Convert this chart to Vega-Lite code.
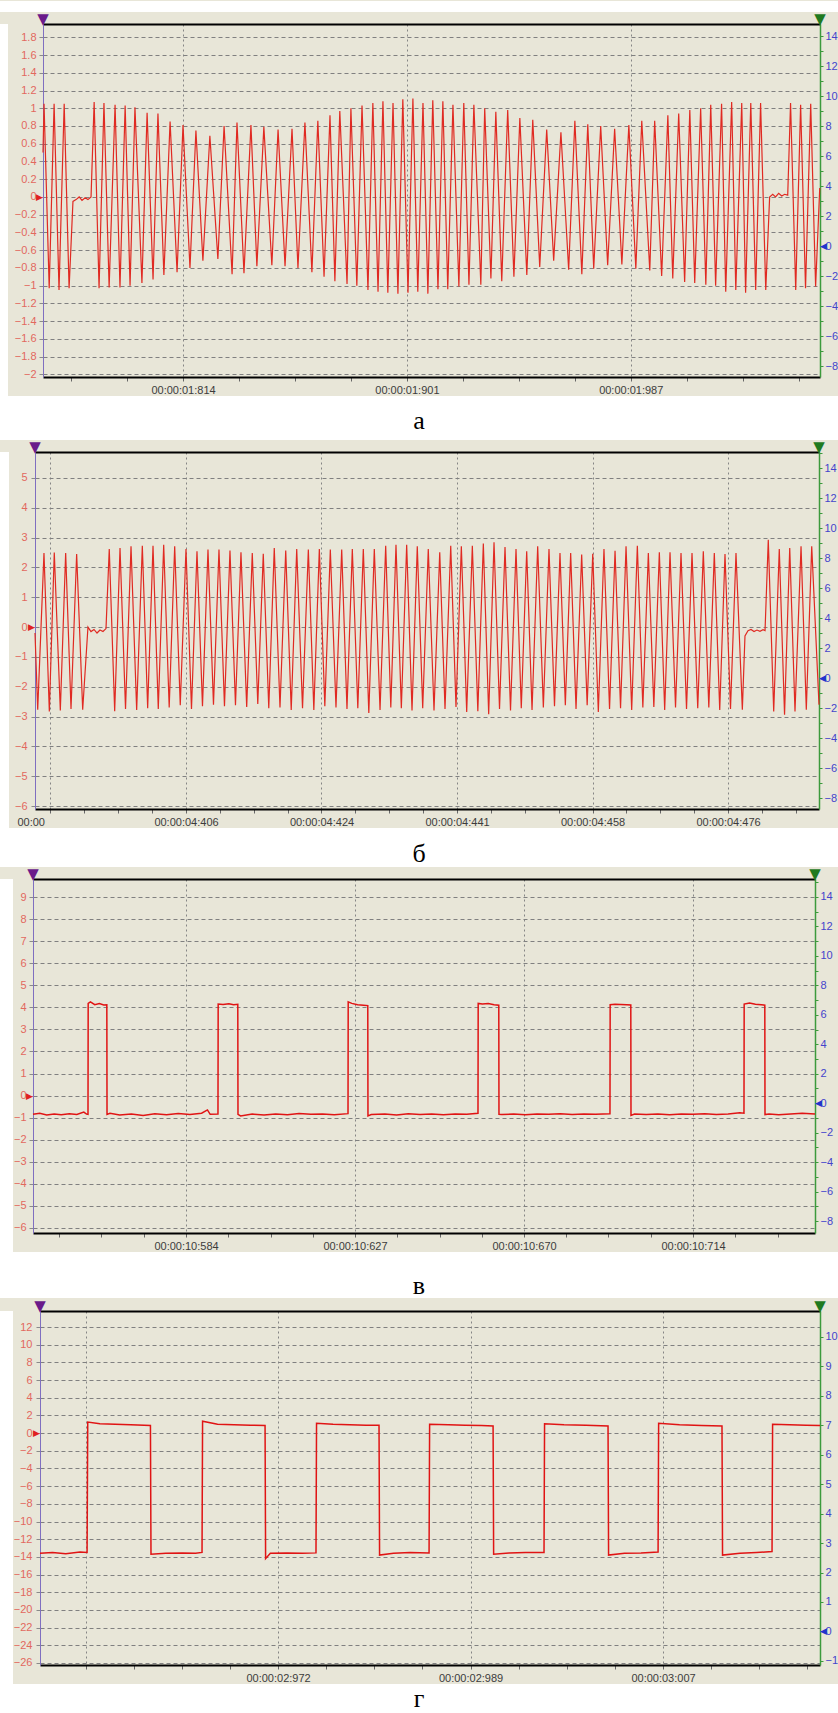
{
"$schema": "https://vega.github.io/schema/vega-lite/v6.json",
"padding": 0,
"background": "#e8e6d8",
"spacing": 0,
"bounds": "full",
"config": {
  "view": {"stroke": null},
  "axis": {"labelFont": "Liberation Sans", "labelFontSize": 11, "labelOverlap": false, "labelFlush": false, "labelBound": false, "title": null}
},
"datasets": {
"a": [
{"t":1759.8,"v":0.5},{"t":1760.2,"v":1.05},{"t":1762.2,"v":-1.03},{"t":1764.1,"v":1.05},{"t":1766.0,"v":-1.05},{"t":1768.0,"v":1.05},{"t":1769.9,"v":-1.03},
{"t":1771.4,"v":-0.05},{"t":1772.6,"v":-0.03},{"t":1773.8,"v":0.0},{"t":1774.9,"v":-0.04},{"t":1776.1,"v":-0.01},{"t":1777.2,"v":-0.03},{"t":1778.4,"v":0.0},
{"t":1779.6,"v":1.07},{"t":1781.5,"v":-1.03},{"t":1783.4,"v":1.06},{"t":1785.4,"v":-1.02},{"t":1787.7,"v":1.04},{"t":1789.6,"v":-1.02},{"t":1791.6,"v":1.03},{"t":1793.5,"v":-1.0},
{"t":1795.4,"v":1.01},{"t":1798.1,"v":-0.97},{"t":1800.1,"v":0.95},{"t":1802.4,"v":-0.93},{"t":1804.3,"v":0.94},{"t":1806.6,"v":-0.88},{"t":1809.0,"v":0.85},{"t":1811.7,"v":-0.85},
{"t":1814.0,"v":0.81},{"t":1816.7,"v":-0.8},{"t":1819.0,"v":0.75},{"t":1821.7,"v":-0.72},{"t":1824.4,"v":0.69},{"t":1827.5,"v":-0.7},{"t":1829.9,"v":0.8},{"t":1833.0,"v":-0.87},
{"t":1834.9,"v":0.84},{"t":1837.6,"v":-0.86},{"t":1840.3,"v":0.81},{"t":1842.6,"v":-0.78},{"t":1845.3,"v":0.79},{"t":1848.4,"v":-0.77},{"t":1850.8,"v":0.76},{"t":1853.5,"v":-0.78},
{"t":1856.2,"v":0.77},{"t":1858.5,"v":-0.8},{"t":1861.2,"v":0.84},{"t":1863.9,"v":-0.85},{"t":1866.2,"v":0.86},{"t":1868.6,"v":-0.9},{"t":1870.9,"v":0.92},{"t":1872.8,"v":-0.95},
{"t":1874.7,"v":0.97},{"t":1877.5,"v":-0.98},{"t":1879.0,"v":1.0},{"t":1881.3,"v":-1.0},{"t":1883.3,"v":1.03},{"t":1885.6,"v":-1.05},{"t":1887.5,"v":1.06},{"t":1889.5,"v":-1.07},
{"t":1891.4,"v":1.08},{"t":1893.3,"v":-1.08},{"t":1895.3,"v":1.06},{"t":1897.2,"v":-1.09},{"t":1899.1,"v":1.1},{"t":1901.1,"v":-1.08},{"t":1903.0,"v":1.11},{"t":1904.9,"v":-1.07},
{"t":1906.9,"v":1.06},{"t":1908.8,"v":-1.09},{"t":1910.7,"v":1.09},{"t":1912.7,"v":-1.04},{"t":1914.6,"v":1.08},{"t":1916.5,"v":-1.04},{"t":1918.5,"v":1.04},{"t":1920.8,"v":-1.01},
{"t":1922.7,"v":1.06},{"t":1924.7,"v":-0.99},{"t":1926.6,"v":1.04},{"t":1929.3,"v":-0.99},{"t":1930.8,"v":1.0},{"t":1933.2,"v":-0.92},{"t":1935.1,"v":0.96},{"t":1937.4,"v":-0.95},
{"t":1939.7,"v":0.98},{"t":1942.1,"v":-0.9},{"t":1944.4,"v":0.89},{"t":1947.1,"v":-0.88},{"t":1949.4,"v":0.87},{"t":1952.1,"v":-0.79},{"t":1954.8,"v":0.76},{"t":1957.5,"v":-0.72},
{"t":1960.3,"v":0.73},{"t":1963.3,"v":-0.82},{"t":1965.7,"v":0.86},{"t":1968.4,"v":-0.87},{"t":1970.7,"v":0.82},{"t":1973.0,"v":-0.81},{"t":1975.7,"v":0.8},{"t":1978.4,"v":-0.77},
{"t":1981.1,"v":0.77},{"t":1983.9,"v":-0.76},{"t":1986.6,"v":0.81},{"t":1989.3,"v":-0.81},{"t":1991.6,"v":0.86},{"t":1994.7,"v":-0.83},{"t":1996.6,"v":0.86},{"t":1999.3,"v":-0.89},
{"t":2001.7,"v":0.92},{"t":2003.6,"v":-0.92},{"t":2005.9,"v":0.94},{"t":2008.2,"v":-0.96},{"t":2010.2,"v":0.98},{"t":2012.1,"v":-0.97},{"t":2014.4,"v":1.0},{"t":2016.4,"v":-0.99},
{"t":2018.3,"v":1.04},{"t":2020.2,"v":-1.0},{"t":2022.5,"v":1.05},{"t":2024.1,"v":-1.07},{"t":2026.4,"v":1.07},{"t":2028.0,"v":-1.05},{"t":2030.3,"v":1.06},{"t":2031.8,"v":-1.08},
{"t":2033.8,"v":1.06},{"t":2035.7,"v":-1.05},{"t":2037.6,"v":1.06},{"t":2039.6,"v":-1.05},
{"t":2041.1,"v":0.0},{"t":2042.3,"v":0.03},{"t":2043.4,"v":0.0},{"t":2044.6,"v":0.04},{"t":2045.8,"v":0.01},{"t":2046.9,"v":0.03},{"t":2048.1,"v":0.02},
{"t":2049.2,"v":1.06},{"t":2051.2,"v":-1.05},{"t":2053.1,"v":1.04},{"t":2055.0,"v":-1.03},{"t":2057.0,"v":1.05},{"t":2058.9,"v":-1.01},{"t":2060.5,"v":0.1}
],
"b": [
{"t":4386.5,"v":-0.2},{"t":4386.85,"v":-2.77},{"t":4387.66,"v":2.48},{"t":4388.35,"v":-2.83},{"t":4388.99,"v":2.5},{"t":4389.77,"v":-2.8},{"t":4390.46,"v":2.48},{"t":4391.15,"v":-2.75},
{"t":4391.88,"v":2.45},{"t":4392.66,"v":-2.77},{"t":4393.34,"v":0.0},{"t":4393.73,"v":-0.15},{"t":4394.12,"v":-0.08},{"t":4394.51,"v":-0.2},{"t":4394.89,"v":-0.1},{"t":4395.28,"v":-0.15},{"t":4395.67,"v":-0.05},
{"t":4396.09,"v":2.62},{"t":4396.79,"v":-2.82},{"t":4397.48,"v":2.65},{"t":4398.19,"v":-2.75},{"t":4398.9,"v":2.71},{"t":4399.63,"v":-2.78},{"t":4400.36,"v":2.73},{"t":4401.05,"v":-2.72},
{"t":4401.74,"v":2.73},{"t":4402.42,"v":-2.75},{"t":4403.12,"v":2.76},{"t":4403.83,"v":-2.7},{"t":4404.54,"v":2.71},{"t":4405.26,"v":-2.62},{"t":4406.0,"v":2.62},{"t":4406.71,"v":-2.75},
{"t":4407.42,"v":2.54},{"t":4408.13,"v":-2.65},{"t":4408.84,"v":2.6},{"t":4409.55,"v":-2.6},{"t":4410.26,"v":2.6},{"t":4410.97,"v":-2.65},{"t":4411.68,"v":2.57},{"t":4412.39,"v":-2.62},
{"t":4413.1,"v":2.51},{"t":4413.84,"v":-2.68},{"t":4414.56,"v":2.48},{"t":4415.27,"v":-2.58},{"t":4415.98,"v":2.46},{"t":4416.69,"v":-2.72},{"t":4417.4,"v":2.65},{"t":4418.14,"v":-2.7},
{"t":4418.88,"v":2.57},{"t":4419.59,"v":-2.78},{"t":4420.3,"v":2.62},{"t":4421.05,"v":-2.72},{"t":4421.8,"v":2.6},{"t":4422.51,"v":-2.78},{"t":4423.22,"v":2.62},{"t":4423.93,"v":-2.65},
{"t":4424.64,"v":2.6},{"t":4425.37,"v":-2.7},{"t":4426.11,"v":2.6},{"t":4426.79,"v":-2.75},{"t":4427.48,"v":2.62},{"t":4428.19,"v":-2.72},{"t":4428.9,"v":2.62},{"t":4429.61,"v":-2.88},
{"t":4430.32,"v":2.62},{"t":4431.06,"v":-2.78},{"t":4431.79,"v":2.73},{"t":4432.45,"v":-2.7},{"t":4433.12,"v":2.76},{"t":4433.81,"v":-2.72},{"t":4434.5,"v":2.76},{"t":4435.19,"v":-2.8},
{"t":4435.87,"v":2.71},{"t":4436.57,"v":-2.72},{"t":4437.29,"v":2.62},{"t":4438.03,"v":-2.8},{"t":4438.77,"v":2.51},{"t":4439.45,"v":-2.75},{"t":4440.19,"v":2.73},{"t":4440.87,"v":-2.68},
{"t":4441.56,"v":2.71},{"t":4442.25,"v":-2.85},{"t":4442.98,"v":2.73},{"t":4443.69,"v":-2.82},{"t":4444.4,"v":2.8},{"t":4445.09,"v":-2.92},{"t":4445.78,"v":2.84},{"t":4446.49,"v":-2.75},
{"t":4447.2,"v":2.68},{"t":4447.91,"v":-2.8},{"t":4448.62,"v":2.62},{"t":4449.3,"v":-2.72},{"t":4450.0,"v":2.54},{"t":4450.69,"v":-2.78},{"t":4451.42,"v":2.71},{"t":4452.15,"v":-2.7},
{"t":4452.88,"v":2.62},{"t":4453.59,"v":-2.65},{"t":4454.3,"v":2.48},{"t":4454.99,"v":-2.62},{"t":4455.68,"v":2.48},{"t":4456.37,"v":-2.75},{"t":4457.1,"v":2.43},{"t":4457.81,"v":-2.62},
{"t":4458.53,"v":2.46},{"t":4459.25,"v":-2.85},{"t":4459.98,"v":2.62},{"t":4460.7,"v":-2.75},{"t":4461.41,"v":2.56},{"t":4462.12,"v":-2.72},{"t":4462.83,"v":2.71},{"t":4463.56,"v":-2.78},
{"t":4464.29,"v":2.73},{"t":4465.0,"v":-2.7},{"t":4465.71,"v":2.48},{"t":4466.42,"v":-2.68},{"t":4467.13,"v":2.51},{"t":4467.82,"v":-2.78},{"t":4468.51,"v":2.51},{"t":4469.22,"v":-2.7},
{"t":4469.93,"v":2.48},{"t":4470.64,"v":-2.75},{"t":4471.35,"v":2.48},{"t":4472.09,"v":-2.72},{"t":4472.81,"v":2.54},{"t":4473.52,"v":-2.7},{"t":4474.23,"v":2.48},{"t":4474.93,"v":-2.78},
{"t":4475.61,"v":2.45},{"t":4476.32,"v":-2.75},{"t":4477.03,"v":2.48},{"t":4477.85,"v":-2.77},
{"t":4478.19,"v":-0.3},{"t":4478.58,"v":-0.12},{"t":4478.97,"v":-0.08},{"t":4479.36,"v":-0.15},{"t":4479.74,"v":-0.1},{"t":4480.13,"v":-0.14},{"t":4480.52,"v":-0.09},{"t":4480.78,"v":-0.12},
{"t":4481.2,"v":2.93},{"t":4481.9,"v":-2.83},{"t":4482.62,"v":2.62},{"t":4483.3,"v":-2.94},{"t":4483.97,"v":2.65},{"t":4484.65,"v":-2.83},{"t":4485.43,"v":2.71},{"t":4486.11,"v":-2.77},
{"t":4486.81,"v":2.71},{"t":4487.75,"v":-2.6}
],
"c": [
{"t":10544.77,"v":-0.85},{"t":10546.5,"v":-0.8},{"t":10548.3,"v":-0.88},{"t":10550.2,"v":-0.83},{"t":10552.0,"v":-0.87},{"t":10554.1,"v":-0.82},{"t":10556.0,"v":-0.86},{"t":10557.8,"v":-0.75},{"t":10558.5,"v":-0.84},{"t":10558.87,"v":-0.85},
{"t":10558.92,"v":4.18},{"t":10559.5,"v":4.25},{"t":10560.6,"v":4.12},{"t":10561.8,"v":4.17},{"t":10562.9,"v":4.11},{"t":10563.7,"v":4.12},
{"t":10563.75,"v":-0.85},{"t":10564.5,"v":-0.8},{"t":10567.0,"v":-0.88},{"t":10570.0,"v":-0.84},{"t":10573.0,"v":-0.9},{"t":10576.0,"v":-0.82},{"t":10579.0,"v":-0.87},{"t":10582.0,"v":-0.81},{"t":10585.0,"v":-0.86},{"t":10588.0,"v":-0.8},{"t":10589.5,"v":-0.65},{"t":10590.2,"v":-0.85},{"t":10592.2,"v":-0.84},
{"t":10592.25,"v":4.15},{"t":10593.5,"v":4.13},{"t":10595.0,"v":4.16},{"t":10596.2,"v":4.12},{"t":10597.28,"v":4.14},
{"t":10597.33,"v":-0.85},{"t":10598.0,"v":-0.92},{"t":10601.0,"v":-0.84},{"t":10604.0,"v":-0.88},{"t":10607.0,"v":-0.83},{"t":10610.0,"v":-0.87},{"t":10613.0,"v":-0.81},{"t":10616.0,"v":-0.85},{"t":10619.0,"v":-0.83},{"t":10622.0,"v":-0.87},{"t":10625.54,"v":-0.82},
{"t":10625.59,"v":4.25},{"t":10626.5,"v":4.18},{"t":10628.0,"v":4.12},{"t":10629.5,"v":4.1},{"t":10630.61,"v":4.08},
{"t":10630.66,"v":-0.92},{"t":10631.5,"v":-0.86},{"t":10635.0,"v":-0.84},{"t":10638.0,"v":-0.88},{"t":10641.0,"v":-0.82},{"t":10644.0,"v":-0.86},{"t":10647.0,"v":-0.84},{"t":10650.0,"v":-0.87},{"t":10653.0,"v":-0.83},{"t":10656.0,"v":-0.85},{"t":10658.87,"v":-0.8},
{"t":10658.92,"v":4.18},{"t":10660.0,"v":4.15},{"t":10661.5,"v":4.17},{"t":10663.0,"v":4.12},{"t":10664.2,"v":4.1},
{"t":10664.25,"v":-0.85},{"t":10665.0,"v":-0.86},{"t":10668.0,"v":-0.84},{"t":10671.0,"v":-0.87},{"t":10674.0,"v":-0.83},{"t":10677.0,"v":-0.85},{"t":10680.0,"v":-0.82},{"t":10683.0,"v":-0.86},{"t":10686.0,"v":-0.84},{"t":10689.0,"v":-0.85},{"t":10692.71,"v":-0.82},
{"t":10692.76,"v":4.12},{"t":10694.0,"v":4.14},{"t":10695.5,"v":4.13},{"t":10697.0,"v":4.12},{"t":10698.05,"v":4.11},
{"t":10698.1,"v":-0.9},{"t":10699.0,"v":-0.84},{"t":10702.0,"v":-0.86},{"t":10705.0,"v":-0.83},{"t":10708.0,"v":-0.87},{"t":10711.0,"v":-0.84},{"t":10714.0,"v":-0.85},{"t":10717.0,"v":-0.82},{"t":10720.0,"v":-0.86},{"t":10723.0,"v":-0.83},{"t":10726.0,"v":-0.78},{"t":10727.07,"v":-0.8},
{"t":10727.12,"v":4.15},{"t":10728.5,"v":4.2},{"t":10730.0,"v":4.14},{"t":10731.5,"v":4.12},{"t":10732.41,"v":4.1},
{"t":10732.46,"v":-0.86},{"t":10733.5,"v":-0.84},{"t":10736.0,"v":-0.87},{"t":10739.0,"v":-0.83},{"t":10742.0,"v":-0.8},{"t":10745.28,"v":-0.84}
],
"d": [
{"t":2950.36,"v":-13.6},{"t":2951.5,"v":-13.5},{"t":2952.7,"v":-13.65},{"t":2954.0,"v":-13.45},{"t":2954.64,"v":-13.5},
{"t":2954.7,"v":1.25},{"t":2955.8,"v":1.05},{"t":2957.2,"v":1.0},{"t":2958.6,"v":0.95},{"t":2960.4,"v":0.85},
{"t":2960.45,"v":-13.7},{"t":2961.8,"v":-13.6},{"t":2963.3,"v":-13.55},{"t":2964.5,"v":-13.6},{"t":2965.09,"v":-13.5},
{"t":2965.14,"v":1.35},{"t":2966.5,"v":1.0},{"t":2968.0,"v":0.95},{"t":2969.5,"v":0.9},{"t":2970.82,"v":0.85},
{"t":2970.87,"v":-14.2},{"t":2971.3,"v":-13.6},{"t":2972.8,"v":-13.55},{"t":2974.2,"v":-13.6},{"t":2975.45,"v":-13.55},
{"t":2975.5,"v":1.1},{"t":2977.0,"v":1.0},{"t":2978.5,"v":0.95},{"t":2980.0,"v":0.9},{"t":2981.18,"v":0.9},
{"t":2981.23,"v":-13.8},{"t":2982.5,"v":-13.6},{"t":2984.0,"v":-13.5},{"t":2985.73,"v":-13.55},
{"t":2985.78,"v":1.0},{"t":2987.5,"v":0.95},{"t":2989.0,"v":0.9},{"t":2990.5,"v":0.85},{"t":2991.55,"v":0.8},
{"t":2991.6,"v":-13.7},{"t":2993.0,"v":-13.55},{"t":2994.5,"v":-13.5},{"t":2996.18,"v":-13.5},
{"t":2996.23,"v":1.05},{"t":2998.0,"v":0.95},{"t":3000.0,"v":0.9},{"t":3002.0,"v":0.8},
{"t":3002.05,"v":-13.8},{"t":3003.5,"v":-13.6},{"t":3005.0,"v":-13.55},{"t":3006.55,"v":-13.45},
{"t":3006.6,"v":1.1},{"t":3008.5,"v":0.95},{"t":3010.5,"v":0.85},{"t":3012.36,"v":0.8},
{"t":3012.41,"v":-13.8},{"t":3014.0,"v":-13.6},{"t":3015.5,"v":-13.5},{"t":3016.91,"v":-13.4},
{"t":3016.96,"v":1.0},{"t":3018.5,"v":0.95},{"t":3020.0,"v":0.9},{"t":3021.27,"v":0.85}
]
},
"vconcat": [
{"width": 838, "height": 11, "view": {"fill": "white", "stroke": null}, "data": {"values": [{"c": " "}]}, "mark": {"type": "text"}, "encoding": {"text": {"field": "c"}}},
{"spacing": 0, "hconcat": [
{"width": 8, "height": 372, "view": {"fill": "white", "stroke": null}, "data": {"values": [{"c": " "}]}, "mark": {"type": "text"}, "encoding": {"text": {"field": "c"}}},
{
 "width": 777, "height": 353,
 "layer": [
  {"data": {"name": "a"}, "mark": {"type": "line", "color": "#e02a22", "strokeWidth": 1.2},
   "encoding": {
    "x": {"field": "t", "type": "quantitative", "scale": {"domain": [1759.8, 2060.6], "nice": false, "zero": false},
      "axis": {"orient": "bottom", "values": [1770.67,1792.33,1814,1835.67,1857.33,1879,1900.67,1922.33,1944,1965.67,1987.33,2009,2030.67,2052.33],
        "labelExpr": "indexof([1814,1900.67,1987.33], datum.value) >= 0 ? ['00:00:01:814','00:00:01:901','00:00:01:987'][indexof([1814,1900.67,1987.33], datum.value)] : ''",
        "grid": true, "gridOpacity": {"condition": {"test": "indexof([1814,1900.67,1987.33], datum.value) >= 0", "value": 1}, "value": 0},
        "gridDash": [2, 3], "gridColor": "#858585", "domainColor": "#000000", "domainWidth": 2, "tickColor": "#666666", "tickSize": 4, "labelPadding": 3, "labelColor": "#3c3c3c"}},
    "y": {"field": "v", "type": "quantitative", "scale": {"domain": [-2.03, 1.95], "nice": false, "zero": false},
      "axis": {"orient": "left", "values": [-2,-1.8,-1.6,-1.4,-1.2,-1,-0.8,-0.6,-0.4,-0.2,0,0.2,0.4,0.6,0.8,1,1.2,1.4,1.6,1.8], "format": "~g",
        "grid": true, "gridDash": [4, 3], "gridColor": "#808080", "domainColor": "#7f6fc0", "tickColor": "#8a8a8a", "tickSize": 4, "labelPadding": 3, "labelColor": "#e2685e", "minExtent": 35, "maxExtent": 35}}
   }},
  {"data": {"values": [{"t": 1759.8, "v": 0}]}, "mark": {"type": "text", "text": "▶", "color": "#e02020", "fontSize": 9, "align": "right", "baseline": "middle", "font": "DejaVu Sans"},
   "encoding": {"x": {"field": "t", "type": "quantitative", "scale": {"domain": [1759.8, 2060.6], "nice": false, "zero": false}, "axis": null},
     "y": {"field": "v", "type": "quantitative", "scale": {"domain": [-2.03, 1.95], "nice": false, "zero": false}, "axis": null}}},
  {"data": {"values": [{"t": 1759.8, "v": 1.95}]}, "mark": {"type": "text", "text": "▼", "color": "#6a1b8a", "fontSize": 15, "align": "center", "baseline": "alphabetic", "font": "DejaVu Sans"},
   "encoding": {"x": {"field": "t", "type": "quantitative", "scale": {"domain": [1759.8, 2060.6], "nice": false, "zero": false}, "axis": null},
     "y": {"field": "v", "type": "quantitative", "scale": {"domain": [-2.03, 1.95], "nice": false, "zero": false}, "axis": null}}},
  {"data": {"values": [{"t": 2060.6, "r": 0}]}, "mark": {"type": "text", "text": "◀", "color": "#2233cc", "fontSize": 9, "align": "left", "baseline": "middle", "font": "DejaVu Sans"},
   "encoding": {"x": {"field": "t", "type": "quantitative", "scale": {"domain": [1759.8, 2060.6], "nice": false, "zero": false},
       "axis": {"orient": "top", "labels": false, "ticks": false, "grid": false, "domainColor": "#000000", "domainWidth": 2}},
     "y": {"field": "r", "type": "quantitative", "scale": {"domain": [-8.73, 14.8], "nice": false, "zero": false},
       "axis": {"orient": "right", "values": [-8,-7,-6,-5,-4,-3,-2,-1,0,1,2,3,4,5,6,7,8,9,10,11,12,13,14], "labelExpr": "datum.value % 2 == 0 ? datum.label : ''",
         "grid": false, "domainColor": "#3c9a3c", "domainWidth": 1.5, "tickColor": "#3c9a3c", "tickSize": 3, "labelPadding": 2, "labelColor": "#4444cc"}}}},
  {"data": {"values": [{"t": 2060.6, "r": 14.8}]}, "mark": {"type": "text", "text": "▼", "color": "#1f7a1f", "fontSize": 15, "align": "center", "baseline": "alphabetic", "font": "DejaVu Sans"},
   "encoding": {"x": {"field": "t", "type": "quantitative", "scale": {"domain": [1759.8, 2060.6], "nice": false, "zero": false}, "axis": null},
     "y": {"field": "r", "type": "quantitative", "scale": {"domain": [-8.73, 14.8], "nice": false, "zero": false}, "axis": null}}}
 ],
 "resolve": {"scale": {"y": "independent"}, "axis": {"x": "independent", "y": "independent"}}
}]},
{"width": 838, "height": 44, "view": {"fill": "white", "stroke": null}, "data": {"values": [{"c": "а"}]}, "mark": {"type": "text", "font": "Liberation Serif", "fontSize": 26, "color": "#000000", "dy": 3}, "encoding": {"text": {"field": "c"}}},
{"spacing": 0, "hconcat": [
{"width": 9, "height": 376, "view": {"fill": "white", "stroke": null}, "data": {"values": [{"c": " "}]}, "mark": {"type": "text"}, "encoding": {"text": {"field": "c"}}},
{
 "width": 784, "height": 357,
 "layer": [
  {"data": {"name": "b"}, "mark": {"type": "line", "color": "#e02a22", "strokeWidth": 1.2},
   "encoding": {
    "x": {"field": "t", "type": "quantitative", "scale": {"domain": [4386.5, 4487.75], "nice": false, "zero": false},
      "axis": {"orient": "bottom", "values": [4388.5,4392.875,4397.25,4401.625,4406,4410.375,4414.75,4419.125,4423.5,4427.875,4432.25,4436.625,4441,4445.375,4449.75,4454.125,4458.5,4462.875,4467.25,4471.625,4476,4480.375,4484.75],
        "labelExpr": "indexof([4388.5,4406,4423.5,4441,4458.5,4476], datum.value) >= 0 ? ['00:00','00:00:04:406','00:00:04:424','00:00:04:441','00:00:04:458','00:00:04:476'][indexof([4388.5,4406,4423.5,4441,4458.5,4476], datum.value)] : ''",
        "labelAlign": {"condition": {"test": "datum.value < 4390", "value": "right"}, "value": "center"},
        "labelOffset": {"condition": {"test": "datum.value < 4390", "value": -6}, "value": 0},
        "grid": true, "gridOpacity": {"condition": {"test": "indexof([4388.5,4406,4423.5,4441,4458.5,4476], datum.value) >= 0", "value": 1}, "value": 0},
        "gridDash": [2, 3], "gridColor": "#858585", "domainColor": "#000000", "domainWidth": 2, "tickColor": "#666666", "tickSize": 4, "labelPadding": 3, "labelColor": "#3c3c3c"}},
    "y": {"field": "v", "type": "quantitative", "scale": {"domain": [-6.1, 5.87], "nice": false, "zero": false},
      "axis": {"orient": "left", "values": [-6,-5,-4,-3,-2,-1,0,1,2,3,4,5], "format": "~g",
        "grid": true, "gridDash": [4, 3], "gridColor": "#808080", "domainColor": "#7f6fc0", "tickColor": "#8a8a8a", "tickSize": 4, "labelPadding": 4, "labelColor": "#e2685e", "minExtent": 26, "maxExtent": 26}}
   }},
  {"data": {"values": [{"t": 4386.5, "v": 0}]}, "mark": {"type": "text", "text": "▶", "color": "#e02020", "fontSize": 9, "align": "right", "baseline": "middle", "font": "DejaVu Sans"},
   "encoding": {"x": {"field": "t", "type": "quantitative", "scale": {"domain": [4386.5, 4487.75], "nice": false, "zero": false}, "axis": null},
     "y": {"field": "v", "type": "quantitative", "scale": {"domain": [-6.1, 5.87], "nice": false, "zero": false}, "axis": null}}},
  {"data": {"values": [{"t": 4386.5, "v": 5.87}]}, "mark": {"type": "text", "text": "▼", "color": "#6a1b8a", "fontSize": 15, "align": "center", "baseline": "alphabetic", "font": "DejaVu Sans"},
   "encoding": {"x": {"field": "t", "type": "quantitative", "scale": {"domain": [4386.5, 4487.75], "nice": false, "zero": false}, "axis": null},
     "y": {"field": "v", "type": "quantitative", "scale": {"domain": [-6.1, 5.87], "nice": false, "zero": false}, "axis": null}}},
  {"data": {"values": [{"t": 4487.75, "r": 0}]}, "mark": {"type": "text", "text": "◀", "color": "#2233cc", "fontSize": 9, "align": "left", "baseline": "middle", "font": "DejaVu Sans"},
   "encoding": {"x": {"field": "t", "type": "quantitative", "scale": {"domain": [4386.5, 4487.75], "nice": false, "zero": false},
       "axis": {"orient": "top", "labels": false, "ticks": false, "grid": false, "domainColor": "#000000", "domainWidth": 2}},
     "y": {"field": "r", "type": "quantitative", "scale": {"domain": [-8.73, 15.07], "nice": false, "zero": false},
       "axis": {"orient": "right", "values": [-8,-7,-6,-5,-4,-3,-2,-1,0,1,2,3,4,5,6,7,8,9,10,11,12,13,14,15], "labelExpr": "datum.value % 2 == 0 ? datum.label : ''",
         "grid": false, "domainColor": "#3c9a3c", "domainWidth": 1.5, "tickColor": "#3c9a3c", "tickSize": 3, "labelPadding": 2, "labelColor": "#4444cc"}}}},
  {"data": {"values": [{"t": 4487.75, "r": 15.07}]}, "mark": {"type": "text", "text": "▼", "color": "#1f7a1f", "fontSize": 15, "align": "center", "baseline": "alphabetic", "font": "DejaVu Sans"},
   "encoding": {"x": {"field": "t", "type": "quantitative", "scale": {"domain": [4386.5, 4487.75], "nice": false, "zero": false}, "axis": null},
     "y": {"field": "r", "type": "quantitative", "scale": {"domain": [-8.73, 15.07], "nice": false, "zero": false}, "axis": null}}}
 ],
 "resolve": {"scale": {"y": "independent"}, "axis": {"x": "independent", "y": "independent"}}
}]},
{"width": 838, "height": 39, "view": {"fill": "white", "stroke": null}, "data": {"values": [{"c": "б"}]}, "mark": {"type": "text", "font": "Liberation Serif", "fontSize": 26, "color": "#000000", "dy": 6}, "encoding": {"text": {"field": "c"}}},
{"spacing": 0, "hconcat": [
{"width": 13, "height": 373, "view": {"fill": "white", "stroke": null}, "data": {"values": [{"c": " "}]}, "mark": {"type": "text"}, "encoding": {"text": {"field": "c"}}},
{
 "width": 782, "height": 354,
 "layer": [
  {"data": {"name": "c"}, "mark": {"type": "line", "color": "#e01414", "strokeWidth": 1.5},
   "encoding": {
    "x": {"field": "t", "type": "quantitative", "scale": {"domain": [10544.77, 10745.28], "nice": false, "zero": false},
      "axis": {"orient": "bottom", "values": [10551.5,10562.33,10573.17,10584,10594.83,10605.67,10616.5,10627.33,10638.17,10649,10659.83,10670.67,10681.5,10692.33,10703.17,10714,10724.83,10735.67],
        "labelExpr": "indexof([10584,10627.33,10670.67,10714], datum.value) >= 0 ? ['00:00:10:584','00:00:10:627','00:00:10:670','00:00:10:714'][indexof([10584,10627.33,10670.67,10714], datum.value)] : ''",
        "grid": true, "gridOpacity": {"condition": {"test": "indexof([10584,10627.33,10670.67,10714], datum.value) >= 0", "value": 1}, "value": 0},
        "gridDash": [2, 3], "gridColor": "#858585", "domainColor": "#000000", "domainWidth": 2, "tickColor": "#666666", "tickSize": 4, "labelPadding": 3, "labelColor": "#3c3c3c"}},
    "y": {"field": "v", "type": "quantitative", "scale": {"domain": [-6.23, 9.82], "nice": false, "zero": false},
      "axis": {"orient": "left", "values": [-6,-5,-4,-3,-2,-1,0,1,2,3,4,5,6,7,8,9], "format": "~g",
        "grid": true, "gridDash": [4, 3], "gridColor": "#808080", "domainColor": "#7f6fc0", "tickColor": "#8a8a8a", "tickSize": 4, "labelPadding": 3, "labelColor": "#e2685e", "minExtent": 20, "maxExtent": 20}}
   }},
  {"data": {"values": [{"t": 10544.77, "v": 0}]}, "mark": {"type": "text", "text": "▶", "color": "#e02020", "fontSize": 9, "align": "right", "baseline": "middle", "font": "DejaVu Sans"},
   "encoding": {"x": {"field": "t", "type": "quantitative", "scale": {"domain": [10544.77, 10745.28], "nice": false, "zero": false}, "axis": null},
     "y": {"field": "v", "type": "quantitative", "scale": {"domain": [-6.23, 9.82], "nice": false, "zero": false}, "axis": null}}},
  {"data": {"values": [{"t": 10544.77, "v": 9.82}]}, "mark": {"type": "text", "text": "▼", "color": "#6a1b8a", "fontSize": 15, "align": "center", "baseline": "alphabetic", "font": "DejaVu Sans"},
   "encoding": {"x": {"field": "t", "type": "quantitative", "scale": {"domain": [10544.77, 10745.28], "nice": false, "zero": false}, "axis": null},
     "y": {"field": "v", "type": "quantitative", "scale": {"domain": [-6.23, 9.82], "nice": false, "zero": false}, "axis": null}}},
  {"data": {"values": [{"t": 10745.28, "r": 0}]}, "mark": {"type": "text", "text": "◀", "color": "#2233cc", "fontSize": 9, "align": "left", "baseline": "middle", "font": "DejaVu Sans"},
   "encoding": {"x": {"field": "t", "type": "quantitative", "scale": {"domain": [10544.77, 10745.28], "nice": false, "zero": false},
       "axis": {"orient": "top", "labels": false, "ticks": false, "grid": false, "domainColor": "#000000", "domainWidth": 2}},
     "y": {"field": "r", "type": "quantitative", "scale": {"domain": [-8.81, 15.22], "nice": false, "zero": false},
       "axis": {"orient": "right", "values": [-8,-7,-6,-5,-4,-3,-2,-1,0,1,2,3,4,5,6,7,8,9,10,11,12,13,14,15], "labelExpr": "datum.value % 2 == 0 ? datum.label : ''",
         "grid": false, "domainColor": "#3c9a3c", "domainWidth": 1.5, "tickColor": "#3c9a3c", "tickSize": 3, "labelPadding": 2, "labelColor": "#4444cc"}}}},
  {"data": {"values": [{"t": 10745.28, "r": 15.22}]}, "mark": {"type": "text", "text": "▼", "color": "#1f7a1f", "fontSize": 15, "align": "center", "baseline": "alphabetic", "font": "DejaVu Sans"},
   "encoding": {"x": {"field": "t", "type": "quantitative", "scale": {"domain": [10544.77, 10745.28], "nice": false, "zero": false}, "axis": null},
     "y": {"field": "r", "type": "quantitative", "scale": {"domain": [-8.81, 15.22], "nice": false, "zero": false}, "axis": null}}}
 ],
 "resolve": {"scale": {"y": "independent"}, "axis": {"x": "independent", "y": "independent"}}
}]},
{"width": 838, "height": 46, "view": {"fill": "white", "stroke": null}, "data": {"values": [{"c": "в"}]}, "mark": {"type": "text", "font": "Liberation Serif", "fontSize": 26, "color": "#000000", "dy": 11}, "encoding": {"text": {"field": "c"}}},
{"spacing": 0, "hconcat": [
{"width": 13, "height": 373, "view": {"fill": "white", "stroke": null}, "data": {"values": [{"c": " "}]}, "mark": {"type": "text"}, "encoding": {"text": {"field": "c"}}},
{
 "width": 780, "height": 354,
 "layer": [
  {"data": {"name": "d"}, "mark": {"type": "line", "color": "#e01414", "strokeWidth": 1.5},
   "encoding": {
    "x": {"field": "t", "type": "quantitative", "scale": {"domain": [2950.36, 3021.27], "nice": false, "zero": false},
      "axis": {"orient": "bottom", "values": [2954.5,2958.875,2963.25,2967.625,2972,2976.375,2980.75,2985.125,2989.5,2993.875,2998.25,3002.625,3007,3011.375,3015.75,3020.125],
        "labelExpr": "indexof([2972,2989.5,3007], datum.value) >= 0 ? ['00:00:02:972','00:00:02:989','00:00:03:007'][indexof([2972,2989.5,3007], datum.value)] : ''",
        "grid": true, "gridOpacity": {"condition": {"test": "indexof([2954.5,2972,2989.5,3007], datum.value) >= 0", "value": 1}, "value": 0},
        "gridDash": [2, 3], "gridColor": "#858585", "domainColor": "#000000", "domainWidth": 2, "tickColor": "#666666", "tickSize": 4, "labelPadding": 3, "labelColor": "#3c3c3c"}},
    "y": {"field": "v", "type": "quantitative", "scale": {"domain": [-26.23, 13.81], "nice": false, "zero": false},
      "axis": {"orient": "left", "values": [-26,-24,-22,-20,-18,-16,-14,-12,-10,-8,-6,-4,-2,0,2,4,6,8,10,12], "format": "~g",
        "grid": true, "gridDash": [4, 3], "gridColor": "#808080", "domainColor": "#7f6fc0", "tickColor": "#8a8a8a", "tickSize": 4, "labelPadding": 4, "labelColor": "#e2685e", "minExtent": 27, "maxExtent": 27}}
   }},
  {"data": {"values": [{"t": 2950.36, "v": 0}]}, "mark": {"type": "text", "text": "▶", "color": "#e02020", "fontSize": 9, "align": "right", "baseline": "middle", "font": "DejaVu Sans"},
   "encoding": {"x": {"field": "t", "type": "quantitative", "scale": {"domain": [2950.36, 3021.27], "nice": false, "zero": false}, "axis": null},
     "y": {"field": "v", "type": "quantitative", "scale": {"domain": [-26.23, 13.81], "nice": false, "zero": false}, "axis": null}}},
  {"data": {"values": [{"t": 2950.36, "v": 13.81}]}, "mark": {"type": "text", "text": "▼", "color": "#6a1b8a", "fontSize": 15, "align": "center", "baseline": "alphabetic", "font": "DejaVu Sans"},
   "encoding": {"x": {"field": "t", "type": "quantitative", "scale": {"domain": [2950.36, 3021.27], "nice": false, "zero": false}, "axis": null},
     "y": {"field": "v", "type": "quantitative", "scale": {"domain": [-26.23, 13.81], "nice": false, "zero": false}, "axis": null}}},
  {"data": {"values": [{"t": 3021.27, "r": 0}]}, "mark": {"type": "text", "text": "◀", "color": "#2233cc", "fontSize": 9, "align": "left", "baseline": "middle", "font": "DejaVu Sans"},
   "encoding": {"x": {"field": "t", "type": "quantitative", "scale": {"domain": [2950.36, 3021.27], "nice": false, "zero": false},
       "axis": {"orient": "top", "labels": false, "ticks": false, "grid": false, "domainColor": "#000000", "domainWidth": 2}},
     "y": {"field": "r", "type": "quantitative", "scale": {"domain": [-1.14, 10.88], "nice": false, "zero": false},
       "axis": {"orient": "right", "values": [-1,0,1,2,3,4,5,6,7,8,9,10],
         "grid": false, "domainColor": "#3c9a3c", "domainWidth": 1.5, "tickColor": "#3c9a3c", "tickSize": 3, "labelPadding": 2, "labelColor": "#4444cc"}}}},
  {"data": {"values": [{"t": 3021.27, "r": 10.88}]}, "mark": {"type": "text", "text": "▼", "color": "#1f7a1f", "fontSize": 15, "align": "center", "baseline": "alphabetic", "font": "DejaVu Sans"},
   "encoding": {"x": {"field": "t", "type": "quantitative", "scale": {"domain": [2950.36, 3021.27], "nice": false, "zero": false}, "axis": null},
     "y": {"field": "r", "type": "quantitative", "scale": {"domain": [-1.14, 10.88], "nice": false, "zero": false}, "axis": null}}}
 ],
 "resolve": {"scale": {"y": "independent"}, "axis": {"x": "independent", "y": "independent"}}
}]},
{"width": 838, "height": 31, "view": {"fill": "white", "stroke": null}, "data": {"values": [{"c": "г"}]}, "mark": {"type": "text", "font": "Liberation Serif", "fontSize": 26, "color": "#000000", "dy": -1}, "encoding": {"text": {"field": "c"}}}
]
}
